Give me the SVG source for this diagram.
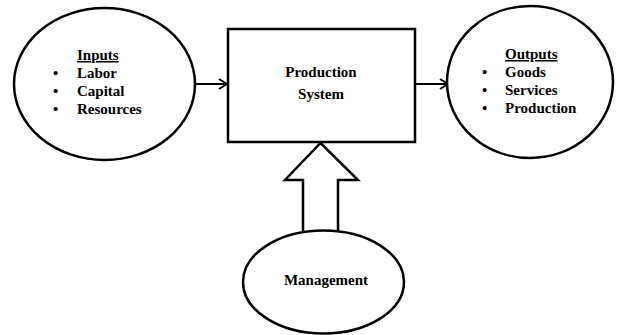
<svg xmlns="http://www.w3.org/2000/svg" width="619" height="335" viewBox="0 0 619 335">
<style>
.shape{fill:#fff;stroke:#000;stroke-width:2.5}
.t{font-family:"Liberation Serif","Times New Roman",serif;font-weight:bold;font-size:15px;fill:#000}
.c{text-anchor:middle}
.con{fill:none;stroke:#000;stroke-width:2}
</style>
<defs>
<marker id="chev" viewBox="0 0 10 12" refX="9" refY="6" markerWidth="10" markerHeight="12" markerUnits="userSpaceOnUse" orient="auto">
<path d="M1,1 L9,6 L1,11" fill="none" stroke="#000" stroke-width="2"/>
</marker>
</defs>
<rect width="619" height="335" fill="#fff"/>
<g id="connectors">
<line class="con" x1="195" y1="84" x2="227" y2="84" marker-end="url(#chev)"/>
<line class="con" x1="415" y1="84" x2="448" y2="84" marker-end="url(#chev)"/>
<path class="shape" d="M320.5,143 L358,180 L338,180 L338,234 L303,234 L303,180 L285,180 Z" stroke-linejoin="miter"/>
</g>
<g id="inputs">
<ellipse class="shape" cx="104.5" cy="84" rx="90.5" ry="76"/>
<text class="t" x="77" y="60" text-decoration="underline">Inputs</text>
<text class="t" x="53" y="78" font-size="13">•</text>
<text class="t" x="77" y="78">Labor</text>
<text class="t" x="53" y="96" font-size="13">•</text>
<text class="t" x="77" y="96">Capital</text>
<text class="t" x="53" y="114" font-size="13">•</text>
<text class="t" x="77" y="114">Resources</text>
</g>
<g id="production">
<rect class="shape" x="228" y="29" width="187" height="113" stroke-width="3"/>
<text class="t c" x="321" y="77">Production</text>
<text class="t c" x="321" y="99">System</text>
</g>
<g id="outputs">
<ellipse class="shape" cx="530" cy="82" rx="83" ry="76"/>
<text class="t" x="505" y="59" text-decoration="underline">Outputs</text>
<text class="t" x="482" y="77" font-size="13">•</text>
<text class="t" x="505" y="77">Goods</text>
<text class="t" x="482" y="95" font-size="13">•</text>
<text class="t" x="505" y="95">Services</text>
<text class="t" x="482" y="113" font-size="13">•</text>
<text class="t" x="505" y="113">Production</text>
</g>
<g id="management">
<ellipse class="shape" cx="323.5" cy="282" rx="80.5" ry="51.5"/>
<text class="t c" x="326" y="285">Management</text>
</g>
</svg>
